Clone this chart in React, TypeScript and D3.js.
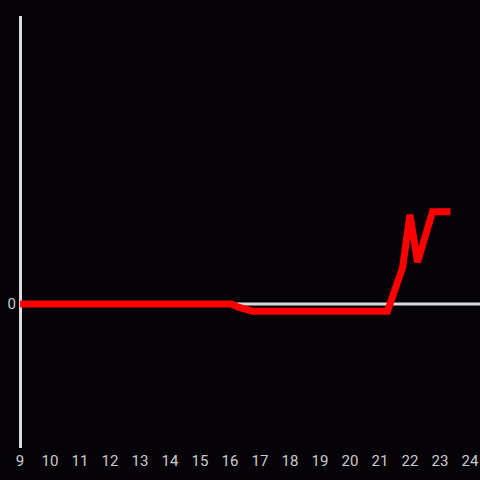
import React from "react";
import * as d3 from "d3";

const hours = [9, 10, 11, 12, 13, 14, 15, 16, 17, 18, 19, 20, 21, 22, 23, 24];
const times = [9, 16.05, 16.25, 16.75, 21.25, 21.75, 22.0, 22.25, 22.75, 23.35];
const values = [0, 0, -0.02, -0.05, -0.05, 0.25, 0.62, 0.29, 0.64, 0.64];
const yTicks = [0];

export default function App() {
  const W = 480, H = 480;
  const x = d3.scaleLinear().domain([9, 24]).range([20, 470]);
  const y = d3.scaleLinear().domain([-1, 2]).range([448, 16]);
  const line = d3
    .line<number>()
    .x((_, i) => x(times[i]))
    .y((d) => y(d))(values) as string;
  const font = "Roboto, 'Liberation Sans', sans-serif";
  return (
    <svg
      width={W}
      height={H}
      style={{ position: "fixed", left: 0, top: 0, background: "#050307", display: "block" }}
    >
      <rect width={W} height={H} fill="#050307" />
      <line x1={20.5} x2={20.5} y1={16} y2={448} stroke="#dcdcdc" strokeWidth={3} />
      <line x1={20} x2={480} y1={y(0)} y2={y(0)} stroke="#dcdcdc" strokeWidth={3} />
      <path d={line} fill="none" stroke="#ff0000" strokeWidth={7} strokeLinejoin="miter" strokeLinecap="butt" />
      {yTicks.map((t) => (
        <text key={t} x={16} y={y(t)} dy="0.35em" textAnchor="end" fill="#cccccc" fontSize={15} fontFamily={font}>
          {t}
        </text>
      ))}
      {hours.map((h) => (
        <text key={h} x={x(h)} y={466} textAnchor="middle" fill="#cccccc" fontSize={15} fontFamily={font}>
          {h}
        </text>
      ))}
    </svg>
  );
}
